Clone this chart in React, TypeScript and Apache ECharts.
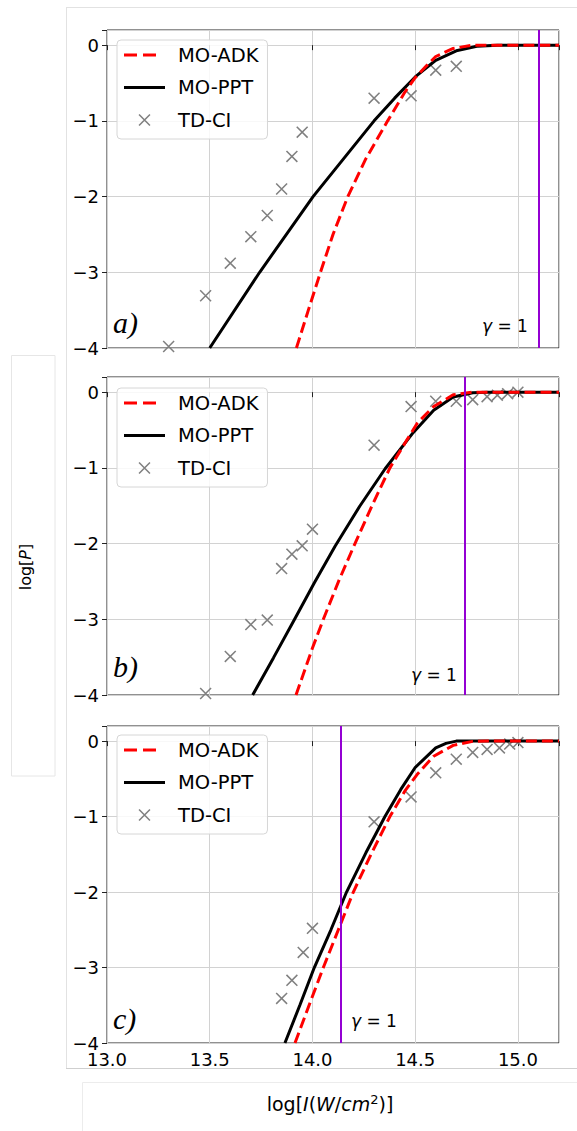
import React, { useEffect, useRef } from "react";
import * as echarts from "echarts";

// ---------- data ----------
const xTicks = [13.0, 13.5, 14.0, 14.5, 15.0];
const yTicks = [-4, -3, -2, -1, 0];
const seriesNames = ["MO-ADK", "MO-PPT", "TD-CI"];
const panelLabels = ["a)", "b)", "c)"];
const gammaX = [15.095, 14.74, 14.14];

const adkA: number[][] = [
  [13.922, -4.0], [13.98, -3.5], [14.039, -3.0], [14.1, -2.5], [14.172, -2.0],
  [14.26, -1.5], [14.366, -1.0], [14.45, -0.62], [14.5, -0.43], [14.556, -0.27],
  [14.6, -0.15], [14.685, -0.044], [14.78, 0], [15.2, 0],
];
const pptA: number[][] = [
  [13.5, -4.0], [13.743, -3.0], [14.003, -2.0], [14.3, -1.0], [14.4, -0.7],
  [14.5, -0.42], [14.6, -0.2], [14.7, -0.075], [14.8, -0.015], [14.9, 0], [15.2, 0],
];
const tdciA: number[][] = [
  [13.3, -3.98], [13.48, -3.31], [13.6, -2.88], [13.7, -2.53], [13.78, -2.25],
  [13.85, -1.9], [13.9, -1.47], [13.95, -1.15], [14.3, -0.7], [14.48, -0.67],
  [14.6, -0.33], [14.7, -0.28],
];

const adkB: number[][] = [
  [13.92, -4.0], [14.0, -3.38], [14.053, -3.0], [14.13, -2.48], [14.207, -2.0],
  [14.29, -1.5], [14.377, -1.0], [14.46, -0.63], [14.51, -0.41], [14.59, -0.19],
  [14.685, -0.035], [14.78, 0], [15.2, 0],
];
const pptB: number[][] = [
  [13.709, -4.0], [13.81, -3.51], [13.915, -2.99], [14.01, -2.515], [14.11, -2.035],
  [14.23, -1.507], [14.353, -1.015], [14.49, -0.535], [14.59, -0.24], [14.685, -0.065],
  [14.78, -0.008], [14.85, 0], [15.2, 0],
];
const tdciB: number[][] = [
  [13.48, -3.98], [13.6, -3.49], [13.7, -3.07], [13.78, -3.01], [13.85, -2.33],
  [13.9, -2.14], [13.95, -2.03], [14.0, -1.81], [14.3, -0.7], [14.48, -0.19],
  [14.6, -0.12], [14.7, -0.12], [14.78, -0.1], [14.85, -0.06], [14.9, -0.04],
  [14.95, -0.02], [15.0, 0.0],
];

const adkC: number[][] = [
  [13.915, -4.0], [13.985, -3.49], [14.053, -3.0], [14.126, -2.5], [14.199, -2.0],
  [14.285, -1.5], [14.377, -1.0], [14.45, -0.66], [14.51, -0.44], [14.59, -0.2],
  [14.685, -0.057], [14.78, -0.004], [14.85, 0], [15.2, 0],
];
const pptC: number[][] = [
  [13.866, -4.0], [13.94, -3.49], [14.009, -3.0], [14.09, -2.5], [14.166, -2.0],
  [14.26, -1.48], [14.353, -1.0], [14.43, -0.64], [14.5, -0.35], [14.6, -0.09],
  [14.65, -0.03], [14.7, 0], [15.2, 0],
];
const tdciC: number[][] = [
  [13.85, -3.41], [13.9, -3.17], [13.955, -2.8], [14.0, -2.48], [14.3, -1.07],
  [14.48, -0.74], [14.6, -0.42], [14.7, -0.24], [14.78, -0.15], [14.85, -0.11],
  [14.91, -0.09], [14.96, -0.04], [15.0, -0.02],
];

const panelData = [
  { adk: adkA, ppt: pptA, tdci: tdciA },
  { adk: adkB, ppt: pptB, tdci: tdciB },
  { adk: adkC, ppt: pptC, tdci: tdciC },
];

// ---------- layout / style ----------
const FONT = "DejaVu Sans";
const GRIDS = [
  { left: 107, top: 30, width: 452, height: 318 },
  { left: 107, top: 377, width: 452, height: 318 },
  { left: 107, top: 726, width: 452, height: 317 },
];
const LEGEND_TOPS = [40, 388, 735];
const GAMMA_TEXT = [
  { x: 482, y: 326 },
  { x: 411, y: 675 },
  { x: 351, y: 1021 },
];
const PANEL_TEXT_Y = [322, 666, 1018];

function xPath(cx: number, cy: number, h: number, d: number): string {
  const a = `M${cx - h},${cy - h + d}L${cx - h + d},${cy - h}L${cx + h},${cy + h - d}L${cx + h - d},${cy + h}Z`;
  const b = `M${cx + h - d},${cy - h}L${cx + h},${cy - h + d}L${cx - h + d},${cy + h}L${cx - h},${cy + h - d}Z`;
  return a + b;
}
const X_SYMBOL = "path://" + xPath(6, 6, 6, 1.1);
const X_LEGEND = "path://M0,0M41,14" + xPath(20.5, 7, 6, 1.1);
const DASH_LEGEND = "path://M0,0M41,14M0,5.5h13v3h-13ZM19,5.5h13v3h-13Z";
const SOLID_LEGEND = "path://M0,0M41,14M0,5.5h41v3h-41Z";

export default function App() {
  const ref = useRef<HTMLDivElement>(null);
  useEffect(() => {
    if (!ref.current) return;
    const chart = echarts.init(ref.current, null, { renderer: "svg" });

    const xAxis = GRIDS.map((_, i) => ({
      type: "value",
      gridIndex: i,
      min: 13.0,
      max: 15.2,
      interval: 0.5,
      axisLine: { show: false },
      axisTick: { show: true, inside: false, length: 5, lineStyle: { color: "#222", width: 1 } },
      axisLabel: {
        show: i === 2,
        margin: 7,
        fontFamily: FONT,
        fontSize: 18,
        color: "#000",
        formatter: (v: number) => (xTicks.some((t) => Math.abs(t - v) < 1e-6) ? v.toFixed(1) : ""),
      },
      splitLine: { show: true, lineStyle: { color: "#d2d2d2", width: 1 } },
    }));
    const yAxis = GRIDS.map((_, i) => ({
      type: "value",
      gridIndex: i,
      min: -4,
      max: 0.2,
      interval: 1,
      axisLine: { show: false },
      axisTick: { show: true, inside: false, length: 5, lineStyle: { color: "#222", width: 1 } },
      axisLabel: {
        margin: 8,
        fontFamily: FONT,
        fontSize: 18,
        color: "#000",
        formatter: (v: number) =>
          yTicks.some((t) => Math.abs(t - v) < 1e-6) ? (v < 0 ? "\u2212" + Math.abs(v) : String(v)) : "",
      },
      splitLine: { show: true, lineStyle: { color: "#d2d2d2", width: 1 } },
    }));

    const series: any[] = [];
    panelData.forEach((p, i) => {
      series.push({
        name: seriesNames[0],
        type: "line",
        xAxisIndex: i,
        yAxisIndex: i,
        data: p.adk,
        symbol: "none",
        z: 4,
        clip: true,
        color: "#ff0000",
        lineStyle: { color: "#ff0000", width: 3, type: [11, 5] },
        markLine: {
          silent: true,
          symbol: "none",
          label: { show: false },
          lineStyle: { color: "#9400d3", width: 2, type: "solid" },
          data: [{ xAxis: gammaX[i] }],
          animation: false,
        },
      });
      series.push({
        name: seriesNames[1],
        type: "line",
        xAxisIndex: i,
        yAxisIndex: i,
        data: p.ppt,
        symbol: "none",
        z: 3,
        clip: true,
        color: "#000000",
        lineStyle: { color: "#000000", width: 3 },
      });
      series.push({
        name: seriesNames[2],
        type: "scatter",
        xAxisIndex: i,
        yAxisIndex: i,
        data: p.tdci,
        symbol: X_SYMBOL,
        symbolSize: 12,
        z: 2,
        color: "#808080",
        itemStyle: { color: "#808080", opacity: 1 },
      });
    });

    const legend = LEGEND_TOPS.map((top) => ({
      orient: "vertical",
      left: 117,
      top,
      padding: [5, 9, 9, 7],
      itemGap: 12.5,
      itemWidth: 41,
      itemHeight: 14,
      backgroundColor: "rgba(255,255,255,0.85)",
      borderColor: "#d6d6d6",
      borderWidth: 1,
      borderRadius: 4,
      selectedMode: false,
      itemStyle: { borderWidth: 0 },
      textStyle: { fontFamily: FONT, fontSize: 19.5, color: "#000", padding: [0, 0, 0, 8] },
      data: [
        { name: seriesNames[0], icon: DASH_LEGEND },
        { name: seriesNames[1], icon: SOLID_LEGEND },
        { name: seriesNames[2], icon: X_LEGEND },
      ],
    }));

    const frameStroke = { stroke: "#e2e2e2", lineWidth: 1 };
    const graphic: any[] = [
      { type: "line", shape: { x1: 66, y1: 7.5, x2: 577, y2: 7.5 }, style: frameStroke, silent: true },
      { type: "line", shape: { x1: 66.5, y1: 7, x2: 66.5, y2: 1068 }, style: frameStroke, silent: true },
      { type: "line", shape: { x1: 66, y1: 1068.5, x2: 577, y2: 1068.5 }, style: { stroke: "#cfcfcf", lineWidth: 1 }, silent: true },
      { type: "rect", shape: { x: 11.5, y: 355.5, width: 43.5, height: 420.5 }, style: { fill: "none", stroke: "#e6e6e6", lineWidth: 1 }, silent: true },
      { type: "polyline", shape: { points: [[82.5, 1131], [82.5, 1082.5], [577, 1082.5]] }, style: { fill: "none", stroke: "#ececec", lineWidth: 1 }, silent: true },
      {
        type: "text",
        x: 25,
        y: 567,
        rotation: Math.PI / 2,
        style: {
          text: "log[{i|P}]",
          fontFamily: FONT,
          fontSize: 16,
          fill: "#000",
          align: "center",
          verticalAlign: "middle",
          rich: { i: { fontStyle: "italic", fontFamily: FONT, fontSize: 16 } },
        },
        silent: true,
      },
      {
        type: "text",
        x: 330,
        y: 1104,
        style: {
          text: "log[{i|I}({i|W}/{i|cm}{s|2})]",
          fontFamily: FONT,
          fontSize: 19,
          fill: "#000",
          align: "center",
          verticalAlign: "middle",
          rich: {
            i: { fontStyle: "italic", fontFamily: FONT, fontSize: 19 },
            s: { fontFamily: FONT, fontSize: 13, padding: [0, 0, 10, 0] },
          },
        },
        silent: true,
      },
    ];
    GAMMA_TEXT.forEach((g) => {
      graphic.push({
        type: "text",
        x: g.x,
        y: g.y,
        style: {
          text: "{i|γ} = 1",
          fontFamily: FONT,
          fontSize: 17,
          fill: "#000",
          align: "left",
          verticalAlign: "middle",
          rich: { i: { fontStyle: "italic", fontFamily: FONT, fontSize: 17 } },
        },
        silent: true,
        z: 10,
      });
    });
    panelLabels.forEach((t, i) => {
      graphic.push({
        type: "text",
        x: 113,
        y: PANEL_TEXT_Y[i],
        style: {
          text: t,
          fontFamily: "Liberation Serif",
          fontStyle: "italic",
          fontSize: 30,
          fill: "#000",
          align: "left",
          verticalAlign: "middle",
        },
        silent: true,
        z: 10,
      });
    });

    chart.setOption({
      animation: false,
      backgroundColor: "#ffffff",
      grid: GRIDS.map((g) => ({ ...g, show: true, borderColor: "#222", borderWidth: 1, backgroundColor: "transparent", containLabel: false })),
      xAxis,
      yAxis,
      legend,
      series,
      graphic,
    });
    return () => chart.dispose();
  }, []);
  return <div ref={ref} style={{ position: "fixed", left: 0, top: 0, width: 577, height: 1131 }} />;
}
